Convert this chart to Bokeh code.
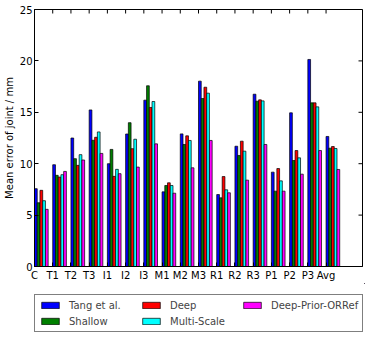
import math
from bokeh.plotting import figure
from bokeh.layouts import column
from bokeh.models import (ColumnDataSource, Range1d, FixedTicker,
                          Legend, LegendItem)
from bokeh.embed import file_html
from bokeh.resources import INLINE

categories = ["C", "T1", "T2", "T3", "I1", "I2", "I3", "M1", "M2", "M3",
              "R1", "R2", "R3", "P1", "P2", "P3", "Avg"]
tang = [7.57, 9.9, 12.5, 15.23, 10.0, 12.89, 16.18, 7.26, 12.9, 18.03,
        7.0, 11.7, 16.76, 9.18, 14.95, 20.14, 12.65]
shallow = [6.2, 8.87, 10.49, 12.28, 11.39, 13.99, 17.58, 7.88, 11.87, 16.34,
           6.68, 10.8, 16.08, 7.33, 10.31, 15.92, 11.51]
deep = [7.41, 8.7, 9.84, 12.57, 8.77, 11.46, 15.47, 8.14, 12.71, 17.44,
        8.75, 12.19, 16.21, 9.53, 11.28, 15.92, 11.67]
multi = [6.4, 8.93, 10.88, 13.09, 9.45, 12.38, 16.05, 7.88, 12.26, 16.86,
         7.46, 11.22, 16.11, 8.33, 10.57, 15.53, 11.48]
prior = [5.56, 9.25, 10.36, 11.0, 9.03, 9.67, 11.93, 7.13, 9.6, 12.26,
         7.17, 8.4, 11.87, 7.33, 8.98, 11.28, 9.44]

series_names = ["Tang et al.", "Shallow", "Deep", "Multi-Scale", "Deep-Prior-ORRef"]
series_values = [tang, shallow, deep, multi, prior]
colors = ["#0000ff", "#008000", "#ff0000", "#00ffff", "#ff00ff"]
y_ticks = [0, 5, 10, 15, 20, 25]

bar_w = 0.15
FONT = "DejaVu Sans"
x_end = len(categories) + 1
y_end = 25

p = figure(frame_width=328, frame_height=257, output_backend="svg",
           toolbar_location=None,
           x_range=Range1d(0, x_end), y_range=Range1d(0, y_end),
           min_border_left=0, min_border_right=8, min_border_top=9,
           min_border_bottom=0)
p.xgrid.visible = False
p.ygrid.visible = False
p.outline_line_color = "black"
p.outline_line_width = 1
p.background_fill_color = "white"
p.border_fill_color = "white"

idx = list(range(len(categories)))
for k, (name, vals, col) in enumerate(zip(series_names, series_values, colors)):
    src = ColumnDataSource(dict(x=[i + (k + 0.5) * bar_w for i in idx], top=vals))
    p.vbar(x="x", top="top", bottom=0, width=bar_w, source=src,
           fill_color=col, line_color="black", line_width=0.7)

# inward ticks on the top and right frame edges (clipped half of a dash marker)
p.scatter(x=idx, y=[y_end] * len(idx), marker="dash", size=8, angle=math.pi / 2,
          line_color="black", line_width=1)
p.scatter(x=[x_end] * len(y_ticks), y=y_ticks, marker="dash", size=8,
          line_color="black", line_width=1)

xa = p.xaxis[0]
xa.ticker = FixedTicker(ticks=idx)
xa.major_label_overrides = {i: c for i, c in enumerate(categories)}
xa.major_tick_in = 4
xa.major_tick_out = 0
xa.minor_tick_line_color = None
xa.major_label_text_font = FONT
xa.major_label_text_font_size = "10px"
xa.major_label_text_color = "black"
xa.major_label_standoff = 3
xa.axis_line_color = "black"

ya = p.yaxis[0]
ya.ticker = FixedTicker(ticks=y_ticks)
ya.major_tick_in = 4
ya.major_tick_out = 0
ya.minor_tick_line_color = None
ya.major_label_text_font = FONT
ya.major_label_text_font_size = "10px"
ya.major_label_text_color = "black"
ya.major_label_standoff = 2
ya.axis_label = "Mean error of joint / mm"
ya.axis_label_text_font = FONT
ya.axis_label_text_font_size = "10px"
ya.axis_label_text_font_style = "normal"
ya.axis_label_text_color = "black"
ya.axis_label_standoff = 2
ya.axis_line_color = "black"

# legend in its own strip below the chart (dummy bars lie outside its range)
lf = figure(width=372, height=50, output_backend="svg", toolbar_location=None,
            x_range=Range1d(0, 1), y_range=Range1d(0, 1),
            x_axis_location=None, y_axis_location=None,
            min_border=0, outline_line_color=None)
lf.xgrid.visible = False
lf.ygrid.visible = False
items = []
for name, col in zip(series_names, colors):
    r = lf.vbar(x=[5], top=[5], bottom=[4], width=0.1, fill_color=col,
                line_color="black", line_width=0.7)
    items.append(LegendItem(label=name, renderers=[r]))

legend = Legend(items=items, ncols=3, nrows=2, orientation="vertical",
                location=(0, 1),
                label_text_font=FONT, label_text_font_size="10px",
                glyph_width=22, glyph_height=8, label_standoff=8,
                label_width=67, spacing=4, padding=4, margin=0,
                border_line_color="black", border_line_width=1,
                label_height=12, background_fill_alpha=1)
lf.add_layout(legend, "center")

layout = column(p, lf, spacing=0)
open("out.html", "w").write(file_html(layout, INLINE))
